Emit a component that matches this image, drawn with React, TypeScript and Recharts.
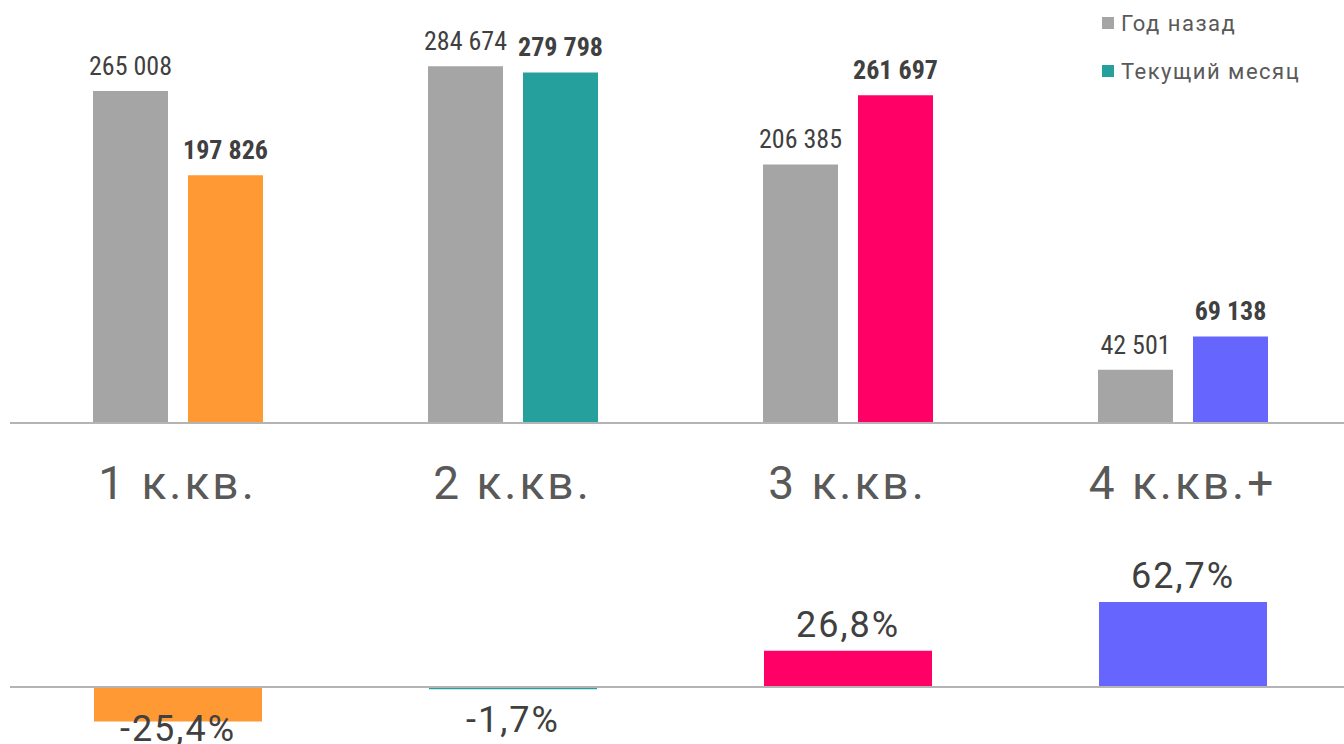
import { BarChart, Bar, XAxis, YAxis, Cell, LabelList, Legend, ReferenceLine } from "recharts";

const categories = ["1 к.кв.", "2 к.кв.", "3 к.кв.", "4 к.кв.+"];
const yearAgo = [265008, 284674, 206385, 42501];
const currentMonth = [197826, 279798, 261697, 69138];
const changePct = [-25.4, -1.7, 26.8, 62.7];
const currentColors = ["#FF9933", "#26A09D", "#FF0066", "#6666FF"];

const data = categories.map((name, i) => ({
  name,
  prev: yearAgo[i],
  cur: currentMonth[i],
  pct: changePct[i],
}));

const BOTTOM_H = 224;

const fmtNum = (v: number) => String(v).replace(/\B(?=(\d{3})+(?!\d))/g, " ");
const fmtPct = (v: number) => v.toFixed(1).replace(".", ",") + "%";

const valueLabel = (bold: boolean) => (props: any) => {
  const { x, y, width, height, value } = props;
  const top = Math.min(y, y + height);
  return (
    <text
      x={x + width / 2}
      y={top - 16}
      textAnchor="middle"
      fill="#404040"
      fontFamily="'Liberation Sans Narrow', 'Roboto Condensed', Roboto, sans-serif"
      fontSize={26}
      fontWeight={bold ? 700 : 400}
    >
      {fmtNum(value)}
    </text>
  );
};

// negative labels sit under the bar, but are pushed up to stay near the page edge
const pctLabel = (props: any) => {
  const { x, y, width, height, value } = props;
  const top = Math.min(y, y + height);
  const bottom = Math.max(y, y + height);
  const ty = value < 0 ? Math.min(bottom + 43, BOTTOM_H - 3) : top - 14;
  return (
    <text
      x={x + width / 2}
      y={ty}
      textAnchor="middle"
      fill="#404040"
      fontFamily="Roboto, sans-serif"
      fontSize={36}
      letterSpacing={2}
    >
      {fmtPct(value)}
    </text>
  );
};

const CategoryTick = (props: any) => {
  const { x, y, payload } = props;
  return (
    <text
      x={x}
      y={y + 74}
      textAnchor="middle"
      fill="#595959"
      fontFamily="Roboto, sans-serif"
      fontSize={46}
      letterSpacing={3}
    >
      {payload.value}
    </text>
  );
};

const LegendContent = (props: any) => (
  <div style={{ fontFamily: "Roboto, sans-serif", fontSize: 22, color: "#595959", letterSpacing: 1.5 }}>
    {props.payload.map((p: any, i: number) => (
      <div key={i} style={{ display: "flex", alignItems: "center", height: 24, marginBottom: 24 }}>
        <span style={{ display: "inline-block", width: 12, height: 12, background: p.color, marginRight: 7 }} />
        {p.value}
      </div>
    ))}
  </div>
);

export default function App() {
  return (
    <div
      style={{
        position: "absolute",
        left: 0,
        top: 0,
        width: 1344,
        height: 744,
        overflow: "hidden",
        background: "#fff",
      }}
    >
      <div style={{ position: "absolute", left: 0, top: 0 }}>
        <BarChart
          width={1350}
          height={520}
          data={data}
          margin={{ top: 0, right: 0, left: 10, bottom: 0 }}
          barSize={75}
          barGap={20}
          style={{ overflow: "visible" }}
        >
          <XAxis
            dataKey="name"
            height={97}
            axisLine={{ stroke: "#B4B4B4", strokeWidth: 2 }}
            tickLine={false}
            tickSize={0}
            tick={<CategoryTick />}
            interval={0}
          />
          <YAxis hide domain={[0, 337650]} />
          <Legend
            layout="horizontal"
            verticalAlign="middle"
            align="center"
            wrapperStyle={{ top: 11, left: 1102, width: 240, height: 100 }}
            content={<LegendContent />}
          />
          <Bar dataKey="prev" name="Год назад" fill="#A5A5A5" isAnimationActive={false}>
            <LabelList dataKey="prev" content={valueLabel(false)} />
          </Bar>
          <Bar dataKey="cur" name="Текущий месяц" fill="#26A09D" isAnimationActive={false}>
            {data.map((_, i) => (
              <Cell key={i} fill={currentColors[i]} />
            ))}
            <LabelList dataKey="cur" content={valueLabel(true)} />
          </Bar>
        </BarChart>
      </div>
      <div style={{ position: "absolute", left: 0, top: 520 }}>
        <BarChart
          width={1350}
          height={BOTTOM_H}
          data={data}
          margin={{ top: 58.5, right: 0, left: 10, bottom: 2.8 }}
          barSize={168}
        >
          <XAxis dataKey="name" hide />
          <YAxis hide domain={[-40, 80]} />
          <Bar dataKey="pct" isAnimationActive={false}>
            {data.map((_, i) => (
              <Cell key={i} fill={currentColors[i]} />
            ))}
            <LabelList dataKey="pct" content={pctLabel} />
          </Bar>
          <ReferenceLine y={0} stroke="#B4B4B4" strokeWidth={2} />
        </BarChart>
      </div>
    </div>
  );
}
